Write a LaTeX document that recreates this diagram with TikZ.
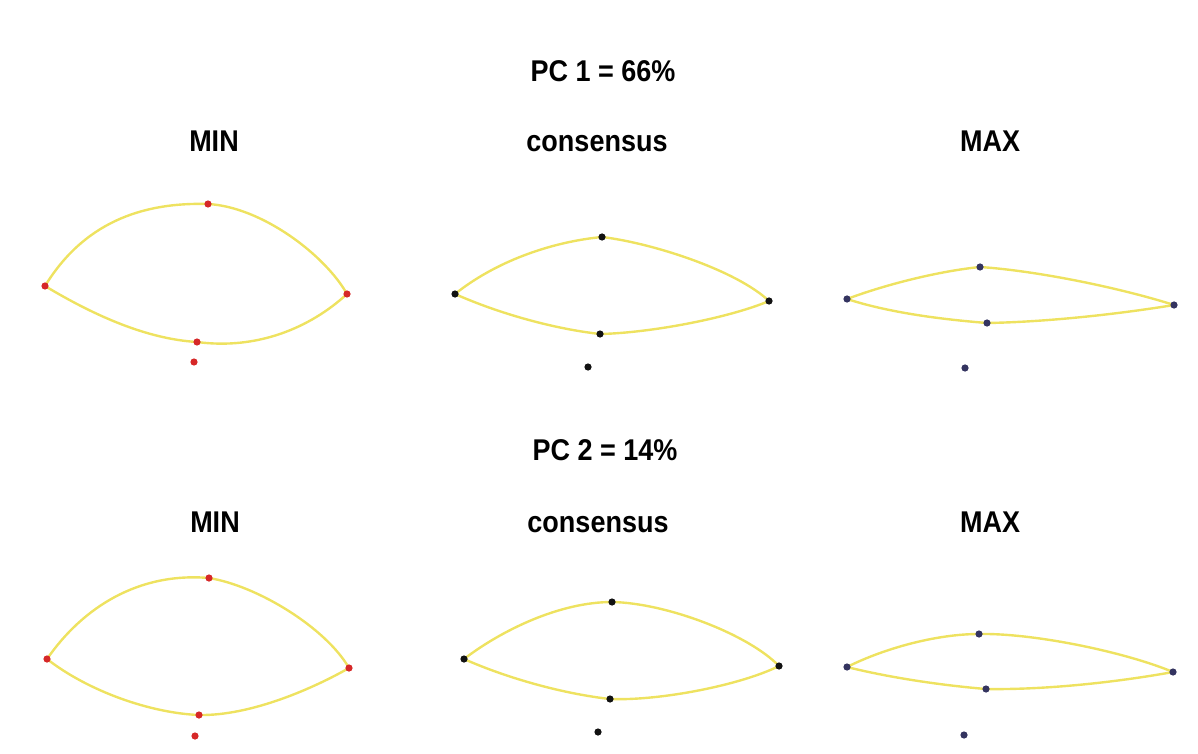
\documentclass[tikz,border=0pt]{standalone}
\usepackage{fontspec}
\setmainfont{Liberation Sans}
\usepackage{xcolor}

\definecolor{outlinecol}{RGB}{238,226,96}
\definecolor{minred}{RGB}{214,40,40}
\definecolor{consblack}{RGB}{18,18,18}
\definecolor{maxnavy}{RGB}{52,52,96}

\begin{document}
\begin{tikzpicture}[
    x=0.5pt, y=-0.5pt,
    title/.style={font=\fontsize{15}{18}\selectfont\bfseries, xscale=0.9, anchor=base, inner sep=0pt},
    outln/.style={draw=outlinecol, line width=1.2pt},
    mindot/.style={fill=minred},
    consdot/.style={fill=consblack},
    maxdot/.style={fill=maxnavy}
]
    \useasboundingbox (0,0) rectangle (1198,754);

    % Titles
    \node[title] (pc1) at (603,82) {PC 1 = 66\%};
    \node[title] (min1) at (214,152) {MIN};
    \node[title] (cons1) at (597,152) {consensus};
    \node[title] (max1) at (990,152) {MAX};
    \node[title] (pc2) at (605,460) {PC 2 = 14\%};
    \node[title] (min2) at (215,532) {MIN};
    \node[title] (cons2) at (598,532) {consensus};
    \node[title] (max2) at (990,532) {MAX};

    % Landmarks, PC 1
    \coordinate (m1l) at (45,286);
    \coordinate (m1t) at (208,204);
    \coordinate (m1r) at (347,294);
    \coordinate (m1b) at (197,342);
    \coordinate (m1x) at (194,362);
    \coordinate (c1l) at (455,294);
    \coordinate (c1t) at (602,237);
    \coordinate (c1r) at (769,301);
    \coordinate (c1b) at (600,334);
    \coordinate (c1x) at (588,367);
    \coordinate (x1l) at (847,299);
    \coordinate (x1t) at (980,267);
    \coordinate (x1r) at (1174,305);
    \coordinate (x1b) at (987,323);
    \coordinate (x1x) at (965,368);

    % Landmarks, PC 2
    \coordinate (m2l) at (47,659);
    \coordinate (m2t) at (209,578);
    \coordinate (m2r) at (349,668);
    \coordinate (m2b) at (199,715);
    \coordinate (m2x) at (195,736);
    \coordinate (c2l) at (464,659);
    \coordinate (c2t) at (612,602);
    \coordinate (c2r) at (779,666);
    \coordinate (c2b) at (610,699);
    \coordinate (c2x) at (598,732);
    \coordinate (x2l) at (847,667);
    \coordinate (x2t) at (979,634);
    \coordinate (x2r) at (1173,672);
    \coordinate (x2b) at (986,689);
    \coordinate (x2x) at (964,735);

    % Outlines
    \draw[outln] (m1l) .. controls +(38,-62) and +(-68,-2) .. (m1t) .. controls +(54,3) and +(-22,-39) .. (m1r);
    \draw[outln] (m1l) .. controls +(50,30) and +(-50,-3) .. (m1b) .. controls +(60,8) and +(-37,34) .. (m1r);
    \draw[outln] (c1l) .. controls +(40,-32) and +(-52,5) .. (c1t) .. controls +(50,6) and +(-33,-31) .. (c1r);
    \draw[outln] (c1l) .. controls +(45,20) and +(-45,-5) .. (c1b) .. controls +(50,-1) and +(-40,17) .. (c1r);
    \draw[outln] (x1l) .. controls +(40,-15) and +(-40,4) .. (x1t) .. controls +(60,4) and +(-50,-16) .. (x1r);
    \draw[outln] (x1l) .. controls +(40,13) and +(-50,-4) .. (x1b) .. controls +(60,-1) and +(-55,9) .. (x1r);

    \draw[outln] (m2l) .. controls +(36,-52) and +(-70,-6) .. (m2t) .. controls +(49,8) and +(-23,-40) .. (m2r);
    \draw[outln] (m2l) .. controls +(41,32) and +(-49,-2) .. (m2b) .. controls +(52,1) and +(-35,20) .. (m2r);
    \draw[outln] (c2l) .. controls +(38,-29) and +(-52,0) .. (c2t) .. controls +(54,1) and +(-31,-32) .. (c2r);
    \draw[outln] (c2l) .. controls +(45,20) and +(-45,-5) .. (c2b) .. controls +(50,2) and +(-38,19) .. (c2r);
    \draw[outln] (x2l) .. controls +(38,-19) and +(-42,0) .. (x2t) .. controls +(55,-1) and +(-48,-20) .. (x2r);
    \draw[outln] (x2l) .. controls +(40,10) and +(-48,-4) .. (x2b) .. controls +(60,1) and +(-55,10) .. (x2r);

    % Dots
    \foreach \row in {1,2} {
        \foreach \p in {l,t,r,b,x} {
            \fill[mindot] (m\row\p) circle (1.8pt);
            \fill[consdot] (c\row\p) circle (1.8pt);
            \fill[maxdot] (x\row\p) circle (1.8pt);
        }
    }
\end{tikzpicture}
\end{document}
